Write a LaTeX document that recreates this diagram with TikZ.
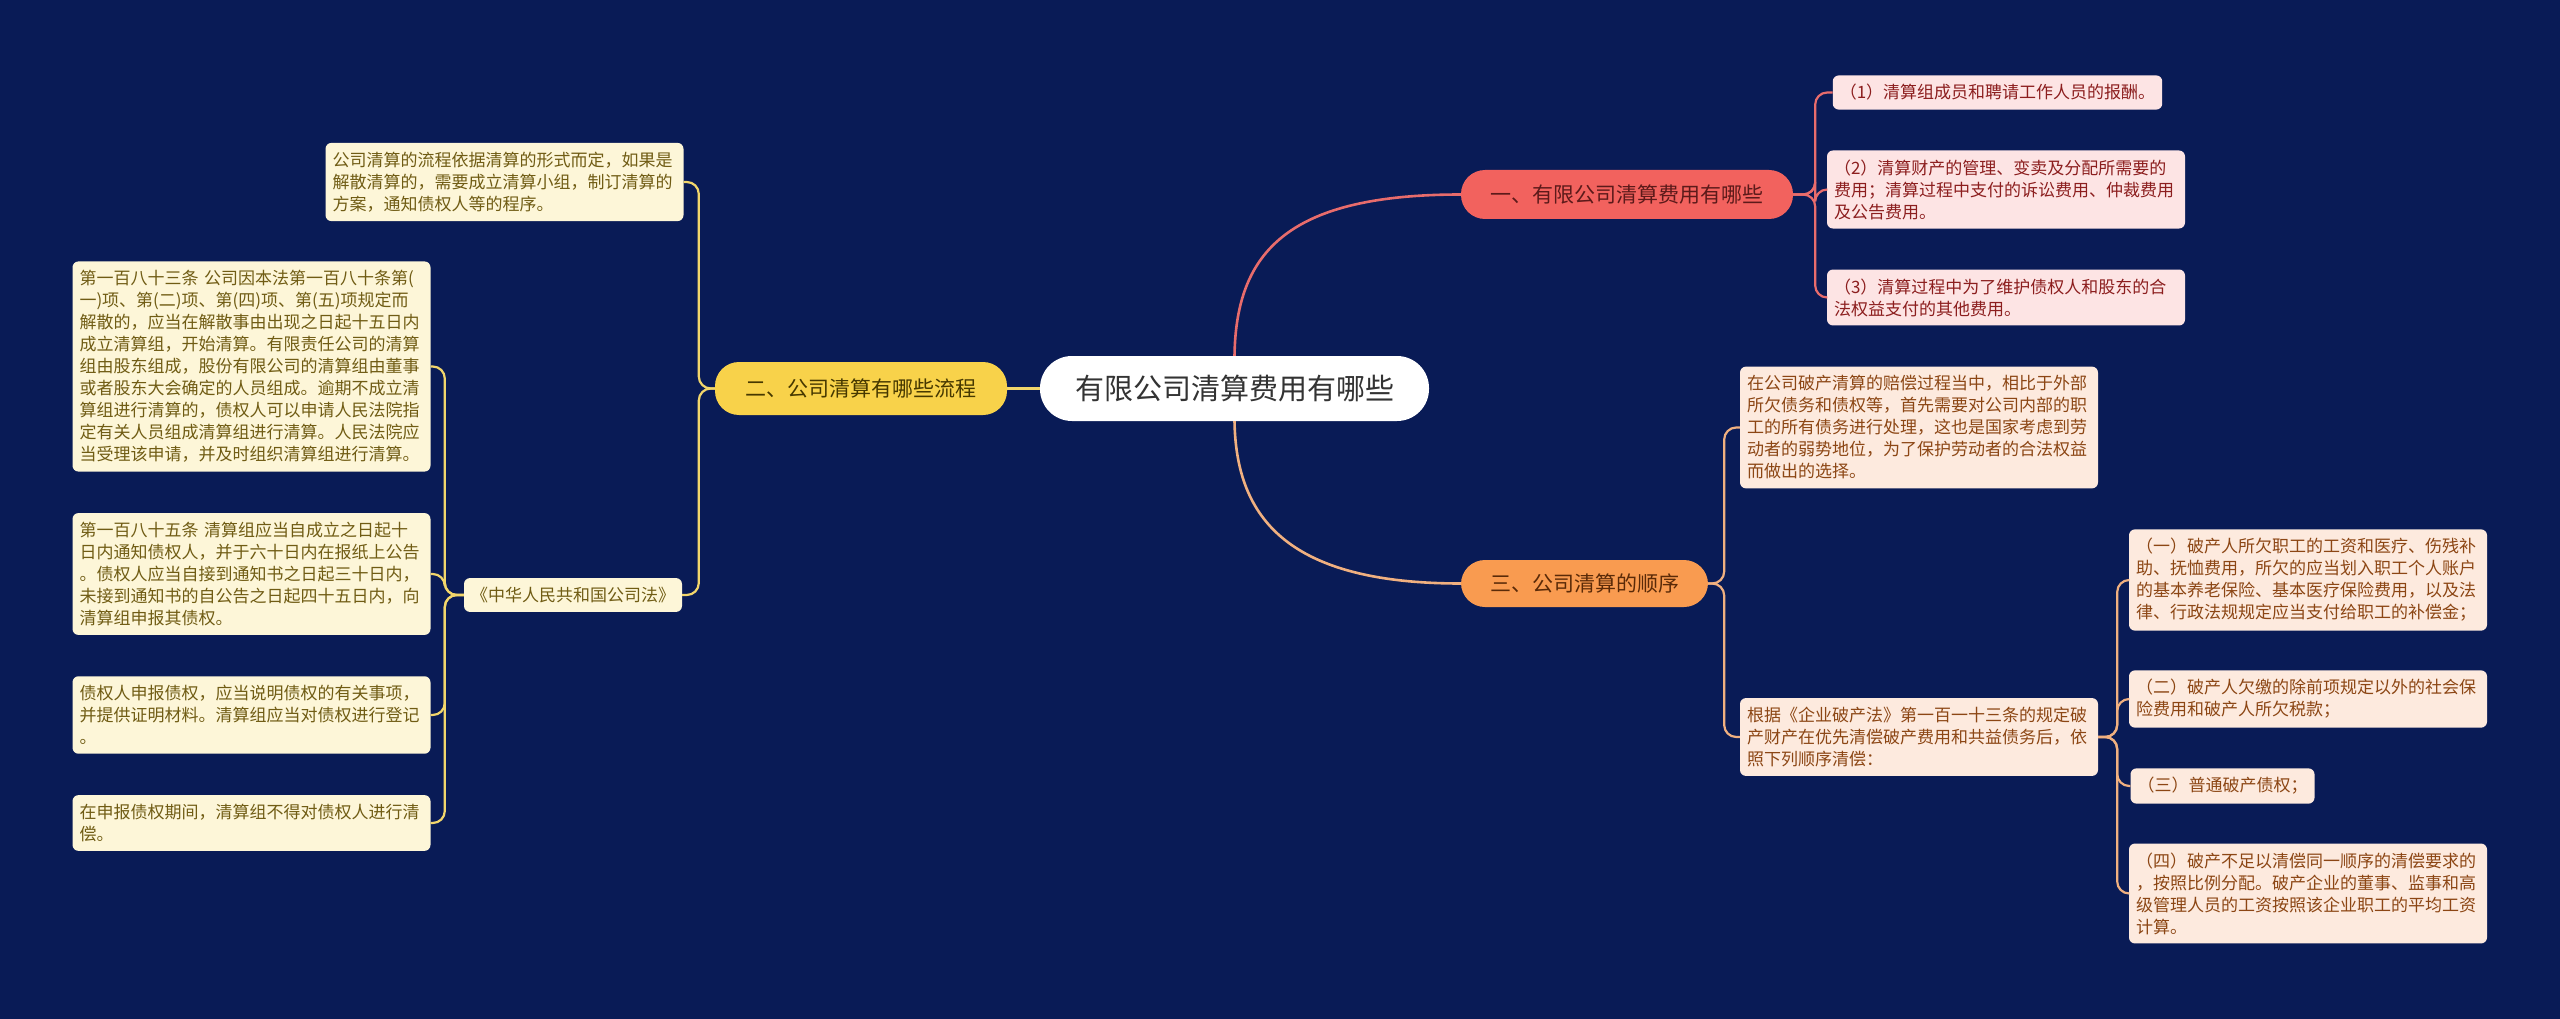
\documentclass[tikz,border=0pt]{standalone}
\usepackage{fontspec}
\setmainfont{Noto Sans CJK SC}
\definecolor{bg}{RGB}{9,27,86}
\definecolor{redfill}{RGB}{242,98,94}
\definecolor{redtext}{RGB}{92,26,26}
\definecolor{redline}{RGB}{232,108,108}
\definecolor{redleaf}{RGB}{253,228,228}
\definecolor{redleaftext}{RGB}{140,30,30}
\definecolor{yelfill}{RGB}{248,210,74}
\definecolor{yeltext}{RGB}{70,56,0}
\definecolor{yelline}{RGB}{242,214,107}
\definecolor{yelleaf}{RGB}{253,246,216}
\definecolor{yelleaftext}{RGB}{112,92,20}
\definecolor{orafill}{RGB}{249,155,80}
\definecolor{oratext}{RGB}{90,42,8}
\definecolor{oraline}{RGB}{240,176,128}
\definecolor{oraleaf}{RGB}{253,234,222}
\definecolor{oraleaftext}{RGB}{140,70,20}
\definecolor{roottext}{RGB}{51,51,51}
\tikzset{
  rootbox/.style={fill=white, rounded corners=32pt, minimum width=389pt, minimum height=65pt, text=roottext, font=\fontsize{29}{34}\selectfont},
  branchbox/.style={rounded corners=24pt, font=\fontsize{21}{26}\selectfont},
  leafbox/.style={rounded corners=6pt, inner xsep=7pt, inner ysep=9pt, align=left, font=\fontsize{17}{22}\selectfont},
  wide/.style={text width=344pt},
  redleafbox/.style={leafbox, fill=redleaf, text=redleaftext},
  yelleafbox/.style={leafbox, fill=yelleaf, text=yelleaftext},
  oraleafbox/.style={leafbox, fill=oraleaf, text=oraleaftext},
  redconn/.style={draw=redline, line width=2.2pt, rounded corners=12pt},
  yelconn/.style={draw=yelline, line width=2.2pt, rounded corners=12pt},
  oraconn/.style={draw=oraline, line width=2.2pt, rounded corners=12pt},
}
\begin{document}
\begin{tikzpicture}[x=1pt,y=-1pt]
\fill[bg] (0,0) rectangle (2560,1019);
\useasboundingbox (0,0) rectangle (2560,1019);

% root and branches
\node[rootbox] (root) at (1234.5,388.5) {有限公司清算费用有哪些};
\node[branchbox, fill=redfill, text=redtext, minimum width=332pt, minimum height=49pt] (b1) at (1627,194.5) {一、有限公司清算费用有哪些};
\node[branchbox, fill=yelfill, text=yeltext, minimum width=292pt, minimum height=53pt] (b2) at (861,388.5) {二、公司清算有哪些流程};
\node[branchbox, fill=orafill, text=oratext, minimum width=247pt, minimum height=47pt] (b3) at (1584.5,583.5) {三、公司清算的顺序};

% branch 1 leaves
\node[redleafbox] (r1) at (1997.5,92.5) {（1）清算组成员和聘请工作人员的报酬。};
\node[redleafbox, wide] (r2) at (2006,189.5) {（2）清算财产的管理、变卖及分配所需要的\\费用；清算过程中支付的诉讼费用、仲裁费用\\及公告费用。};
\node[redleafbox, wide] (r3) at (2006,297.5) {（3）清算过程中为了维护债权人和股东的合\\法权益支付的其他费用。};

% branch 3 leaves
\node[oraleafbox, wide] (oa) at (1919,427.5) {在公司破产清算的赔偿过程当中，相比于外部\\所欠债务和债权等，首先需要对公司内部的职\\工的所有债务进行处理，这也是国家考虑到劳\\动者的弱势地位，为了保护劳动者的合法权益\\而做出的选择。};
\node[oraleafbox, wide] (ob) at (1919,737) {根据《企业破产法》第一百一十三条的规定破\\产财产在优先清偿破产费用和共益债务后，依\\照下列顺序清偿：};
\node[oraleafbox, wide] (s1) at (2308,580) {（一）破产人所欠职工的工资和医疗、伤残补\\助、抚恤费用，所欠的应当划入职工个人账户\\的基本养老保险、基本医疗保险费用，以及法\\律、行政法规规定应当支付给职工的补偿金；};
\node[oraleafbox, wide] (s2) at (2308,699) {（二）破产人欠缴的除前项规定以外的社会保\\险费用和破产人所欠税款；};
\node[oraleafbox] (s3) at (2222.5,786) {（三）普通破产债权；};
\node[oraleafbox, wide] (s4) at (2308,893.5) {（四）破产不足以清偿同一顺序的清偿要求的\\，按照比例分配。破产企业的董事、监事和高\\级管理人员的工资按照该企业职工的平均工资\\计算。};

% branch 2 leaves
\node[yelleafbox, wide] (ytop) at (504.5,182) {公司清算的流程依据清算的形式而定，如果是\\解散清算的，需要成立清算小组，制订清算的\\方案，通知债权人等的程序。};
\node[yelleafbox] (law) at (573,595) {《中华人民共和国公司法》};
\node[yelleafbox, wide] (y1) at (251.5,366.5) {第一百八十三条 公司因本法第一百八十条第(\\一)项、第(二)项、第(四)项、第(五)项规定而\\解散的，应当在解散事由出现之日起十五日内\\成立清算组，开始清算。有限责任公司的清算\\组由股东组成，股份有限公司的清算组由董事\\或者股东大会确定的人员组成。逾期不成立清\\算组进行清算的，债权人可以申请人民法院指\\定有关人员组成清算组进行清算。人民法院应\\当受理该申请，并及时组织清算组进行清算。};
\node[yelleafbox, wide] (y2) at (251.5,574) {第一百八十五条 清算组应当自成立之日起十\\日内通知债权人，并于六十日内在报纸上公告\\。债权人应当自接到通知书之日起三十日内，\\未接到通知书的自公告之日起四十五日内，向\\清算组申报其债权。};
\node[yelleafbox, wide] (y3) at (251.5,715) {债权人申报债权，应当说明债权的有关事项，\\并提供证明材料。清算组应当对债权进行登记\\。};
\node[yelleafbox, wide] (y4) at (251.5,823) {在申报债权期间，清算组不得对债权人进行清\\偿。};

% connectors root -> branches
\draw[draw=redline, line width=2.6pt] (root.north) .. controls (1236,250) and (1290,194.5) .. (b1.west);
\draw[draw=oraline, line width=2.6pt] (root.south) .. controls (1236,520) and (1290,583.5) .. (b3.west);
\draw[draw=yelline, line width=2.6pt] (root.west) -- (b2.east);

% branch 1
\foreach \t in {r1,r2,r3} \draw[redconn] (b1.east) -- ++(22,0) |- (\t.west);
% branch 3
\foreach \t in {oa,ob} \draw[oraconn] (b3.east) -- ++(16,0) |- (\t.west);
\foreach \t in {s1,s2,s3,s4} \draw[oraconn] (ob.east) -- ++(19,0) |- (\t.west);
% branch 2
\foreach \t in {ytop,law} \draw[yelconn] (b2.west) -- ++(-16,0) |- (\t.east);
\foreach \t in {y1,y2,y3,y4} \draw[yelconn] (law.west) -- ++(-19,0) |- (\t.east);
\end{tikzpicture}
\end{document}
